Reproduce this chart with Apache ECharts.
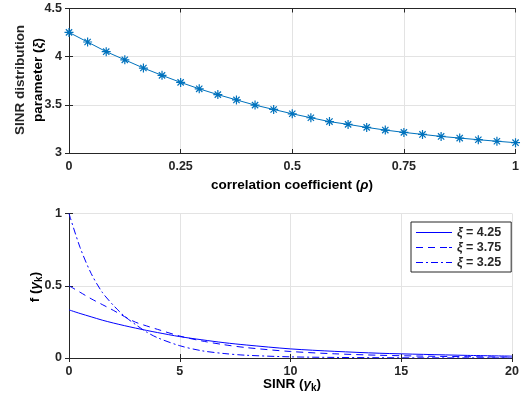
<!DOCTYPE html>
<html><head><meta charset="utf-8">
<script src="https://cdn.jsdelivr.net/npm/echarts@6/dist/echarts.min.js"></script>
<style>html,body{margin:0;padding:0;background:#fff}#c{width:522px;height:407px}</style>
</head><body><div id="c"></div>
<script>
// ---- data ----
const rho = [0,0.041667,0.083333,0.125,0.166667,0.208333,0.25,0.291667,0.333333,0.375,0.416667,0.458333,0.5,0.541667,0.583333,0.625,0.666667,0.708333,0.75,0.791667,0.833333,0.875,0.916667,0.958333,1];
const xi = [4.252,4.152,4.052,3.967,3.882,3.806,3.733,3.666,3.606,3.551,3.497,3.452,3.407,3.366,3.326,3.297,3.266,3.238,3.214,3.193,3.172,3.155,3.138,3.122,3.107];
const xTicksTop = [0,0.25,0.5,0.75,1];
const yTicksTop = [3,3.5,4,4.5];

const gamma = [0,0.5,1,1.5,2,2.5,3,3.5,4,5,6,7,8,10,12,14,16,18,20];
const f425 = [0.333,0.308,0.285,0.262,0.242,0.224,0.207,0.191,0.176,0.148,0.126,0.106,0.090,0.063,0.046,0.033,0.025,0.018,0.013];
const f375 = [0.500,0.455,0.410,0.370,0.330,0.287,0.248,0.222,0.198,0.152,0.118,0.092,0.072,0.045,0.029,0.019,0.013,0.009,0.006];
const f325 = [1.000,0.765,0.585,0.455,0.365,0.290,0.232,0.180,0.140,0.085,0.050,0.031,0.019,0.008,0.004,0.002,0.001,0.0008,0.0005];
const seriesNames = ['ξ = 4.25','ξ = 3.75','ξ = 3.25'];

const FONT = '"Liberation Sans", Arial, Helvetica, sans-serif';
const AX = '#262626';
const GRIDC = '#e3e3e3';
const BLUE = '#0000FF';
const asterisk = 'path://M0,-1L0,1M-1,0L1,0M-0.7,-0.7L0.7,0.7M-0.7,0.7L0.7,-0.7';
const dashTypes = ['solid',[7,5],[7,3,2,3]];
const legendIcons = [
  'path://M0,0h36v1h-36z',
  'path://M0,0h7v1h-7zM12,0h7v1h-7zM24,0h7v1h-7zM33,0h3v1h-3z',
  'path://M0,0h7v1h-7zM10,0h2v1h-2zM15,0h7v1h-7zM25,0h2v1h-2zM30,0h6v1h-6z'
];

function xy(a,b){return a.map((v,i)=>[v,b[i]]);}

function axisCommon(extra){
  return Object.assign({
    type:'value',
    axisLine:{show:true,lineStyle:{color:AX,width:1}},
    axisTick:{show:true,inside:true,length:4,lineStyle:{color:AX}},
    axisLabel:{color:AX,fontFamily:FONT,fontWeight:'bold',fontSize:12.5,margin:7},
    splitLine:{show:true,lineStyle:{color:GRIDC,width:1}}
  },extra);
}
function mirror(extra){
  return Object.assign({
    type:'value',
    axisLine:{show:true,lineStyle:{color:AX,width:1}},
    axisTick:{show:true,inside:true,length:4,lineStyle:{color:AX}},
    axisLabel:{show:false},
    splitLine:{show:false}
  },extra);
}

const chart = echarts.init(document.getElementById('c'),null,{renderer:'canvas'});
const rich = {
  n:{fontFamily:FONT,fontWeight:'bold',fontSize:13.5,color:AX},
  g:{fontFamily:FONT,fontWeight:'bold',fontStyle:'italic',fontSize:13.5,color:AX},
  s:{fontFamily:FONT,fontWeight:'bold',fontSize:10,color:AX,padding:[9,0,0,0]}
};
const legRich = {
  n:{fontFamily:FONT,fontWeight:'bold',fontSize:12.5,color:AX,lineHeight:12},
  g:{fontFamily:FONT,fontWeight:'bold',fontStyle:'italic',fontSize:12.5,color:AX,lineHeight:12}
};
chart.setOption({
  animation:false,
  backgroundColor:'#fff',
  grid:[
    {left:69,right:6,top:8.5,height:144.5},
    {left:69,right:6,top:213.5,height:144.5}
  ],
  xAxis:[
    axisCommon({gridIndex:0,min:0,max:1,interval:0.25}),
    axisCommon({gridIndex:1,min:0,max:20,interval:5}),
    mirror({gridIndex:0,min:0,max:1,interval:0.25,position:'top'}),
    mirror({gridIndex:1,min:0,max:20,interval:5,position:'top'})
  ],
  yAxis:[
    axisCommon({gridIndex:0,min:3,max:4.5,interval:0.5}),
    axisCommon({gridIndex:1,min:0,max:1,interval:0.5}),
    mirror({gridIndex:0,min:3,max:4.5,interval:0.5,position:'right'}),
    mirror({gridIndex:1,min:0,max:1,interval:0.5,position:'right'})
  ],
  legend:{
    data:seriesNames.map((n,i)=>({name:n,icon:legendIcons[i],itemStyle:{color:BLUE,borderWidth:0}})),
    orient:'vertical',
    left:411, top:222,
    itemWidth:36, itemHeight:1, itemGap:2,
    padding:[4,10,3,5],
    borderColor:AX, borderWidth:1, backgroundColor:'#fff',
    itemStyle:{color:BLUE,borderWidth:0},
    textStyle:{color:AX,fontFamily:FONT,fontWeight:'bold',fontSize:12.5,lineHeight:12,rich:legRich},
    formatter:function(n){return '{g|ξ}{n|'+n.slice(1)+'}';}
  },
  series:[
    {type:'line',xAxisIndex:0,yAxisIndex:0,data:xy(rho,xi),
      lineStyle:{color:'#0072BD',width:1},
      symbol:asterisk,symbolSize:9,showAllSymbol:true,
      itemStyle:{color:'#0072BD',borderColor:'#0072BD',borderWidth:1.2}},
    {name:seriesNames[0],type:'line',xAxisIndex:1,yAxisIndex:1,data:xy(gamma,f425),smooth:0.3,
      symbol:'none',lineStyle:{color:BLUE,width:1,type:dashTypes[0]},itemStyle:{color:BLUE}},
    {name:seriesNames[1],type:'line',xAxisIndex:1,yAxisIndex:1,data:xy(gamma,f375),smooth:0.3,
      symbol:'none',lineStyle:{color:BLUE,width:1,type:dashTypes[1]},itemStyle:{color:BLUE}},
    {name:seriesNames[2],type:'line',xAxisIndex:1,yAxisIndex:1,data:xy(gamma,f325),smooth:0.3,
      symbol:'none',lineStyle:{color:BLUE,width:1,type:dashTypes[2]},itemStyle:{color:BLUE}}
  ],
  graphic:[
    {type:'text',x:20,y:80,rotation:Math.PI/2,style:{text:'SINR distribution',font:'bold 13.5px '+FONT,fill:AX,align:'center',verticalAlign:'middle'}},
    {type:'text',x:38,y:80,rotation:Math.PI/2,style:{text:'{n|parameter (}{g|ξ}{n|)}',rich:rich,align:'center',verticalAlign:'middle'}},
    {type:'text',x:292,y:185,style:{text:'{n|correlation coefficient (}{g|ρ}{n|)}',rich:rich,align:'center',verticalAlign:'middle'}},
    {type:'text',x:292,y:384,style:{text:'{n|SINR (}{g|γ}{s|k}{n|)}',rich:rich,align:'center',verticalAlign:'middle'}},
    {type:'text',x:35,y:287,rotation:Math.PI/2,style:{text:'{n|f (}{g|γ}{s|k}{n|)}',rich:rich,align:'center',verticalAlign:'middle'}}
  ]
});
</script></body></html>
